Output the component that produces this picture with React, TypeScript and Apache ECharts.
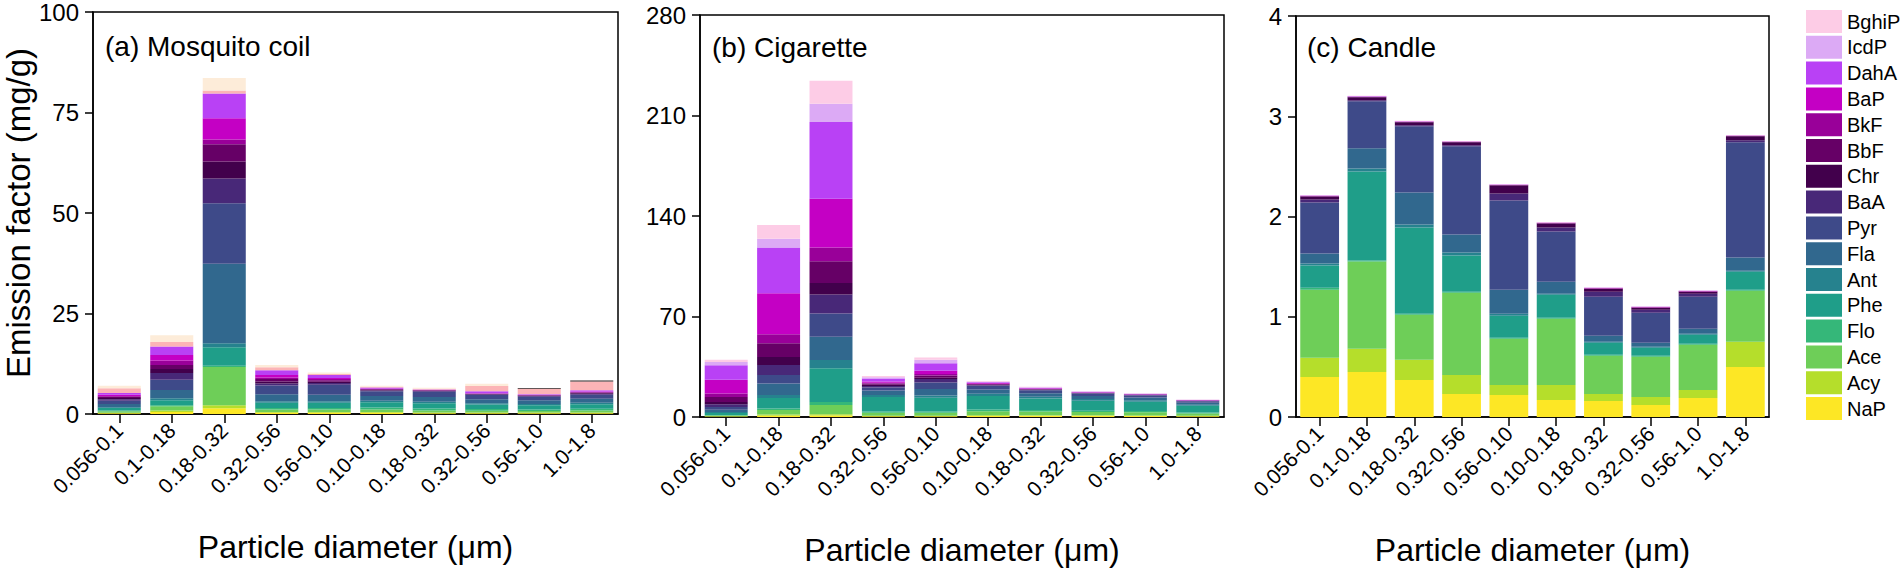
import React, { useEffect, useRef } from "react";
import * as echarts from "echarts";

// Size-bin categories (x axis tick labels, same for all three panels)
const sizeBins = ["0.056-0.1", "0.1-0.18", "0.18-0.32", "0.32-0.56", "0.56-0.10", "0.10-0.18", "0.18-0.32", "0.32-0.56", "0.56-1.0", "1.0-1.8"];

// PAH species, bottom of stack first
const species = ["NaP", "Acy", "Ace", "Flo", "Phe", "Ant", "Fla", "Pyr", "BaA", "Chr", "BbF", "BkF", "BaP", "DahA", "IcdP", "BghiP"];
const legendOrder = ["BghiP", "IcdP", "DahA", "BaP", "BkF", "BbF", "Chr", "BaA", "Pyr", "Fla", "Ant", "Phe", "Flo", "Ace", "Acy", "NaP"];

// (a) Mosquito coil, mg/g — one value per size bin
const coilNaP = [0.2, 0.5, 1.4, 0.3, 0.3, 0.3, 0.2, 0.2, 0.2, 0.2];
const coilAcy = [0.1, 0.4, 0.8, 0.2, 0.2, 0.2, 0.15, 0.15, 0.15, 0.2];
const coilAce = [0.4, 1.0, 9.5, 0.6, 0.6, 0.6, 0.5, 0.45, 0.4, 0.45];
const coilFlo = [0.2, 0.3, 0.3, 0.4, 0.4, 0.5, 0.5, 0.45, 0.4, 0.45];
const coilPhe = [0.6, 1.2, 4.6, 1.3, 1.3, 1.3, 1.3, 1.1, 1.0, 1.1];
const coilAnt = [0.2, 0.5, 1.0, 0.4, 0.4, 0.4, 0.4, 0.35, 0.35, 0.4];
const coilFla = [0.8, 2.1, 19.8, 1.7, 1.6, 1.2, 1.2, 1.0, 0.9, 1.0];
const coilPyr = [0.8, 2.5, 15.0, 2.2, 2.5, 1.15, 1.3, 1.0, 0.9, 1.0];
const coilBaA = [0.4, 1.7, 6.2, 0.5, 0.4, 0.2, 0.15, 0.15, 0.15, 0.25];
const coilChr = [0.3, 1.0, 4.2, 0.5, 0.3, 0.15, 0.1, 0.1, 0.1, 0.15];
const coilBbF = [0.3, 1.0, 4.3, 0.6, 0.4, 0.15, 0.1, 0.1, 0.1, 0.15];
const coilBkF = [0.2, 1.1, 1.2, 0.4, 0.3, 0.1, 0.05, 0.05, 0.05, 0.1];
const coilBaP = [0.3, 1.4, 5.3, 0.6, 0.25, 0.1, 0.05, 0.05, 0.05, 0.15];
const coilDahA = [0.4, 2.1, 6.1, 1.2, 0.75, 0.25, 0.1, 0.5, 0.15, 0.3];
const coilIcdP = [1.2, 1.1, 0.8, 0.7, 0.3, 0.2, 0.2, 1.3, 1.4, 2.2];
const coilBghiP = [0.6, 1.7, 3.1, 0.6, 0.3, 0.2, 0.2, 0.6, 0.15, 0.25];

// (b) Cigarette, mg/g
const cigNaP = [0.3, 0.9, 1.0, 0.5, 0.5, 0.7, 0.8, 0.8, 0.7, 0.5];
const cigAcy = [0.2, 0.8, 1.0, 0.4, 0.4, 0.5, 0.5, 0.4, 0.4, 0.3];
const cigAce = [0.6, 3.1, 6.3, 2.0, 2.0, 2.8, 2.5, 2.3, 2.2, 1.7];
const cigFlo = [0.3, 1.2, 2.1, 1.0, 1.0, 1.2, 1.0, 0.9, 0.8, 0.6];
const cigPhe = [1.4, 7.2, 23.5, 10.0, 9.5, 9.5, 8.0, 7.0, 6.5, 4.7];
const cigAnt = [0.7, 2.1, 5.8, 1.5, 1.5, 1.5, 1.3, 1.1, 1.0, 0.7];
const cigFla = [1.6, 8.1, 16.2, 3.0, 4.6, 3.0, 2.5, 2.1, 1.9, 1.4];
const cigPyr = [1.9, 5.8, 16.2, 2.2, 4.6, 2.5, 2.0, 1.7, 1.5, 1.1];
const cigBaA = [1.9, 7.0, 13.3, 1.0, 2.3, 0.5, 0.4, 0.3, 0.3, 0.2];
const cigChr = [1.6, 5.6, 7.9, 0.8, 1.0, 0.3, 0.2, 0.15, 0.1, 0.1];
const cigBbF = [3.5, 9.5, 15.1, 0.9, 1.5, 0.4, 0.3, 0.2, 0.2, 0.15];
const cigBkF = [2.3, 6.3, 9.7, 0.6, 1.0, 0.3, 0.2, 0.15, 0.1, 0.1];
const cigBaP = [9.7, 28.6, 34.0, 0.8, 2.3, 0.4, 0.3, 0.2, 0.15, 0.1];
const cigDahA = [10.0, 31.8, 53.3, 2.2, 5.3, 0.6, 0.4, 0.3, 0.25, 0.2];
const cigIcdP = [2.3, 6.2, 12.8, 0.8, 2.3, 0.4, 0.3, 0.2, 0.2, 0.15];
const cigBghiP = [1.6, 9.5, 16.0, 0.8, 1.6, 0.4, 0.3, 0.2, 0.2, 0.15];

// (c) Candle, mg/g
const canNaP = [0.40, 0.45, 0.37, 0.23, 0.22, 0.17, 0.16, 0.12, 0.19, 0.50];
const canAcy = [0.19, 0.23, 0.20, 0.19, 0.10, 0.15, 0.07, 0.08, 0.08, 0.25];
const canAce = [0.68, 0.87, 0.45, 0.82, 0.46, 0.66, 0.38, 0.40, 0.45, 0.51];
const canFlo = [0.02, 0.01, 0.01, 0.01, 0.01, 0.01, 0.01, 0.01, 0.01, 0.01];
const canPhe = [0.22, 0.89, 0.86, 0.36, 0.22, 0.23, 0.12, 0.08, 0.09, 0.18];
const canAnt = [0.02, 0.03, 0.03, 0.03, 0.02, 0.01, 0.01, 0.01, 0.01, 0.01];
const canFla = [0.10, 0.20, 0.32, 0.18, 0.24, 0.12, 0.06, 0.04, 0.05, 0.13];
const canPyr = [0.51, 0.47, 0.66, 0.88, 0.89, 0.50, 0.39, 0.30, 0.32, 1.15];
const canBaA = [0.03, 0.01, 0.01, 0.01, 0.07, 0.04, 0.05, 0.03, 0.03, 0.02];
const canChr = [0.03, 0.03, 0.03, 0.03, 0.08, 0.04, 0.03, 0.02, 0.02, 0.04];
const canBbF = [0.003, 0.003, 0.003, 0.003, 0.003, 0.003, 0.003, 0.003, 0.003, 0.003];
const canBkF = [0.002, 0.002, 0.002, 0.002, 0.002, 0.002, 0.002, 0.002, 0.002, 0.002];
const canBaP = [0.002, 0.002, 0.002, 0.002, 0.002, 0.002, 0.002, 0.002, 0.002, 0.002];
const canDahA = [0.002, 0.002, 0.002, 0.002, 0.002, 0.002, 0.002, 0.002, 0.002, 0.002];
const canIcdP = [0.002, 0.002, 0.002, 0.002, 0.002, 0.002, 0.002, 0.002, 0.002, 0.002];
const canBghiP = [0.003, 0.003, 0.003, 0.003, 0.003, 0.003, 0.003, 0.003, 0.003, 0.003];

const coilRows = [coilNaP, coilAcy, coilAce, coilFlo, coilPhe, coilAnt, coilFla, coilPyr, coilBaA, coilChr, coilBbF, coilBkF, coilBaP, coilDahA, coilIcdP, coilBghiP];
const cigRows = [cigNaP, cigAcy, cigAce, cigFlo, cigPhe, cigAnt, cigFla, cigPyr, cigBaA, cigChr, cigBbF, cigBkF, cigBaP, cigDahA, cigIcdP, cigBghiP];
const canRows = [canNaP, canAcy, canAce, canFlo, canPhe, canAnt, canFla, canPyr, canBaA, canChr, canBbF, canBkF, canBaP, canDahA, canIcdP, canBghiP];

const panelTitles = ["(a) Mosquito coil", "(b) Cigarette", "(c) Candle"];

// styles
const speciesColors = ["#fde725", "#b5de2b", "#6ece58", "#35b779", "#1f9e89", "#26828e", "#31688e", "#3e4a89", "#482878", "#42004c", "#660066", "#990099", "#c400c4", "#b941f5", "#dcaaf5", "#fdcce6"];
const coilIcdPColor = "#fcb4b6";
const coilBghiPColors = ["#fdecd9", "#fdecd9", "#fdecd9", "#fdecd9", "#fdecd9", "#fdecd9", "#fdecd9", "#fdecd9", "#2e2424", "#2e2424"];

const FONT = "'Liberation Sans', Arial, Helvetica, sans-serif";

function buildOption() {
  const grids = [
    { left: 93, top: 12, width: 525, height: 402 },
    { left: 700, top: 15, width: 524, height: 402 },
    { left: 1296, top: 16, width: 473, height: 402 },
  ].map((g) => ({ ...g, show: true, borderColor: "#000", borderWidth: 1.5, backgroundColor: "transparent" }));

  const yMax = [100, 280, 4];
  const yInt = [25, 70, 1];

  const xAxis = [0, 1, 2].map((i) => ({
    type: "category",
    gridIndex: i,
    data: sizeBins,
    name: "Particle diameter (μm)",
    nameLocation: "middle",
    nameGap: 117,
    nameTextStyle: { fontSize: 32, color: "#000", fontFamily: FONT },
    axisLine: { show: true, lineStyle: { color: "#000", width: 1.5 } },
    axisTick: { show: true, alignWithLabel: true, length: 9, lineStyle: { color: "#000", width: 1.5 } },
    axisLabel: { interval: 0, rotate: 45, margin: 13, fontSize: 21, color: "#000", fontFamily: FONT },
    splitLine: { show: false },
  }));

  const yAxis = [0, 1, 2].map((i) => ({
    type: "value",
    gridIndex: i,
    min: 0,
    max: yMax[i],
    interval: yInt[i],
    name: i === 0 ? "Emission factor (mg/g)" : "",
    nameLocation: "middle",
    nameGap: 58,
    nameTextStyle: { fontSize: 33, color: "#000", fontFamily: FONT },
    axisLine: { show: true, lineStyle: { color: "#000", width: 1.5 } },
    axisTick: { show: true, length: 8, lineStyle: { color: "#000", width: 1.5 } },
    axisLabel: { margin: 14, fontSize: 24, color: "#000", fontFamily: FONT },
    splitLine: { show: false },
  }));

  const series: any[] = [];
  const panels = [coilRows, cigRows, canRows];
  panels.forEach((rows, p) => {
    rows.forEach((vals, s) => {
      const name = species[s];
      let data: any[] = vals;
      if (p === 0 && name === "IcdP") {
        data = vals.map((v) => ({ value: v, itemStyle: { color: coilIcdPColor } }));
      } else if (p === 0 && name === "BghiP") {
        data = vals.map((v, k) => ({ value: v, itemStyle: { color: coilBghiPColors[k] } }));
      }
      series.push({
        type: "bar",
        name,
        xAxisIndex: p,
        yAxisIndex: p,
        stack: "panel" + p,
        barCategoryGap: "18%",
        itemStyle: { color: speciesColors[s] },
        emphasis: { disabled: true },
        data,
      });
    });
  });

  return {
    animation: false,
    backgroundColor: "#fff",
    textStyle: { fontFamily: FONT, color: "#000" },
    title: panelTitles.map((t, i) => ({
      text: t,
      left: [105, 712, 1307][i],
      top: [32, 33, 33][i],
      padding: 0,
      textStyle: { fontSize: 28, fontWeight: "normal", color: "#000", fontFamily: FONT },
    })),
    legend: {
      orient: "vertical",
      left: 1806,
      top: 10,
      itemWidth: 36,
      itemHeight: 23,
      itemGap: 2.8,
      icon: "rect",
      padding: 0,
      data: legendOrder,
      textStyle: { fontSize: 20, color: "#000", fontFamily: FONT },
      selectedMode: false,
    },
    grid: grids,
    xAxis,
    yAxis,
    series,
  };
}

export default function App() {
  const ref = useRef<HTMLDivElement>(null);
  useEffect(() => {
    if (!ref.current) return;
    const chart = echarts.init(ref.current, null, { renderer: "svg" });
    chart.setOption(buildOption() as any);
    return () => chart.dispose();
  }, []);
  return (
    <div
      ref={ref}
      style={{ position: "absolute", left: 0, top: 0, width: 1904, height: 571, background: "#fff" }}
    />
  );
}
